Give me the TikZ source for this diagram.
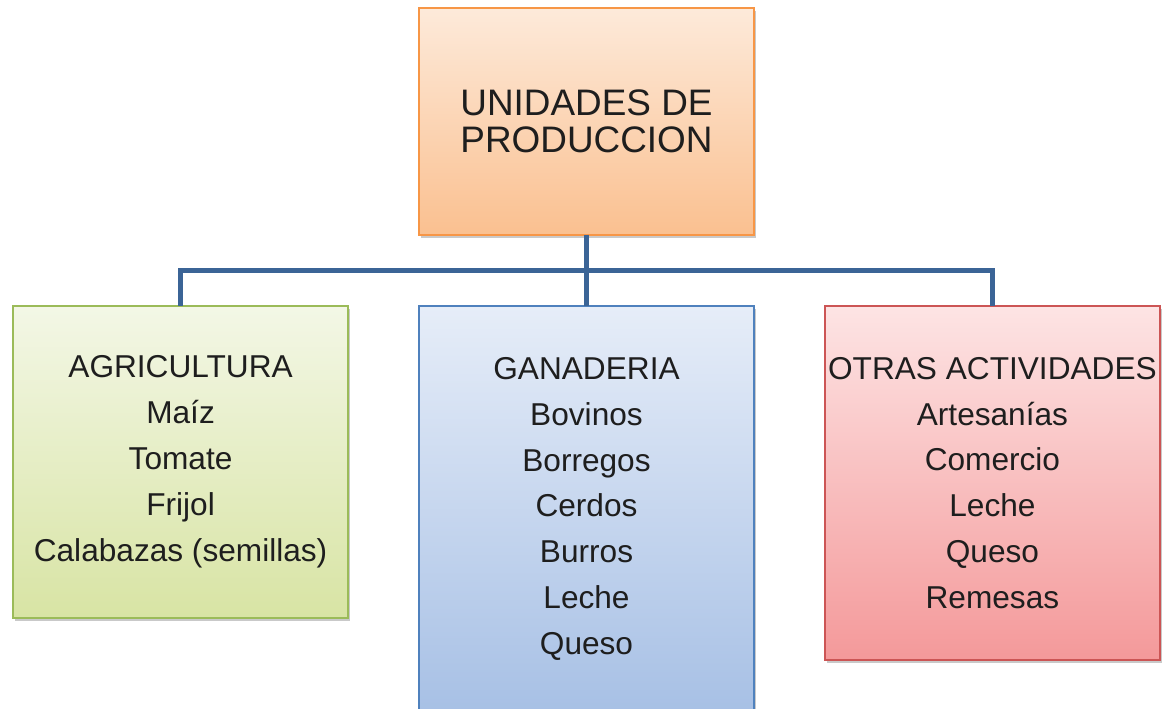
\documentclass[tikz,border=0pt]{standalone}
\usepackage{fontspec}
\setmainfont{Liberation Sans}
\usepackage{xcolor}
\usepackage{tikz}
\usetikzlibrary{positioning,calc,shadows}
\definecolor{inkdark}{HTML}{1E1E1E}
\definecolor{orangeline}{HTML}{F79646}
\definecolor{orangetop}{HTML}{FDEADA}
\definecolor{orangebot}{HTML}{FAC090}
\definecolor{greenline}{HTML}{9BBB59}
\definecolor{greentop}{HTML}{F3F7E6}
\definecolor{greenbot}{HTML}{D8E4A4}
\definecolor{blueline}{HTML}{4F81BD}
\definecolor{bluetop}{HTML}{E6EDF8}
\definecolor{bluebot}{HTML}{A7C0E5}
\definecolor{redline}{HTML}{CC5555}
\definecolor{redtop}{HTML}{FDE4E4}
\definecolor{redbot}{HTML}{F4999A}
\definecolor{linkblue}{HTML}{3B6496}
\tikzset{
  box/.style={rectangle, line width=1.2pt, align=center, inner sep=1pt, outer sep=0pt,
              minimum width=6.7cm, text=inkdark,
              font=\fontsize{18}{26.1}\selectfont,
              drop shadow={shadow xshift=1.2pt, shadow yshift=-1.8pt, opacity=0.3, fill=black!70}},
  headbox/.style={box, draw=orangeline, top color=orangetop, bottom color=orangebot,
                  minimum height=4.54cm, font=\fontsize{21}{20.8}\selectfont},
  agribox/.style={box, draw=greenline, top color=greentop, bottom color=greenbot, minimum height=6.24cm},
  ganabox/.style={box, draw=blueline, top color=bluetop, bottom color=bluebot, minimum height=8.12cm},
  otrasbox/.style={box, draw=redline, top color=redtop, bottom color=redbot, minimum height=7.08cm},
  link/.style={draw=linkblue, line width=2.8pt},
}

\begin{document}
\begin{tikzpicture}[x=0.02cm, y=-0.02cm]
\useasboundingbox (0,0) rectangle (1164,709);
\node[headbox] (top) at (586.5,121.5) {UNIDADES DE\\PRODUCCION};
\node[ganabox, below=1.42cm of top] (gana)
 {GANADERIA\\Bovinos\\Borregos\\Cerdos\\Burros\\Leche\\Queso};
\node[agribox, left=1.42cm of gana.north west, anchor=north east] (agri)
 {AGRICULTURA\\Ma\'iz\\Tomate\\Frijol\\Calabazas (semillas)};
\node[otrasbox, right=1.42cm of gana.north east, anchor=north west] (otras)
 {OTRAS ACTIVIDADES\\Artesan\'ias\\Comercio\\Leche\\Queso\\Remesas};
% connectors
\coordinate (bus) at ($(top.south)!0.5!(gana.north)$);
\draw[link] (top.south) -- (gana.north);
\draw[link] (agri.north) |- (bus) -| (otras.north);
\end{tikzpicture}
\end{document}
